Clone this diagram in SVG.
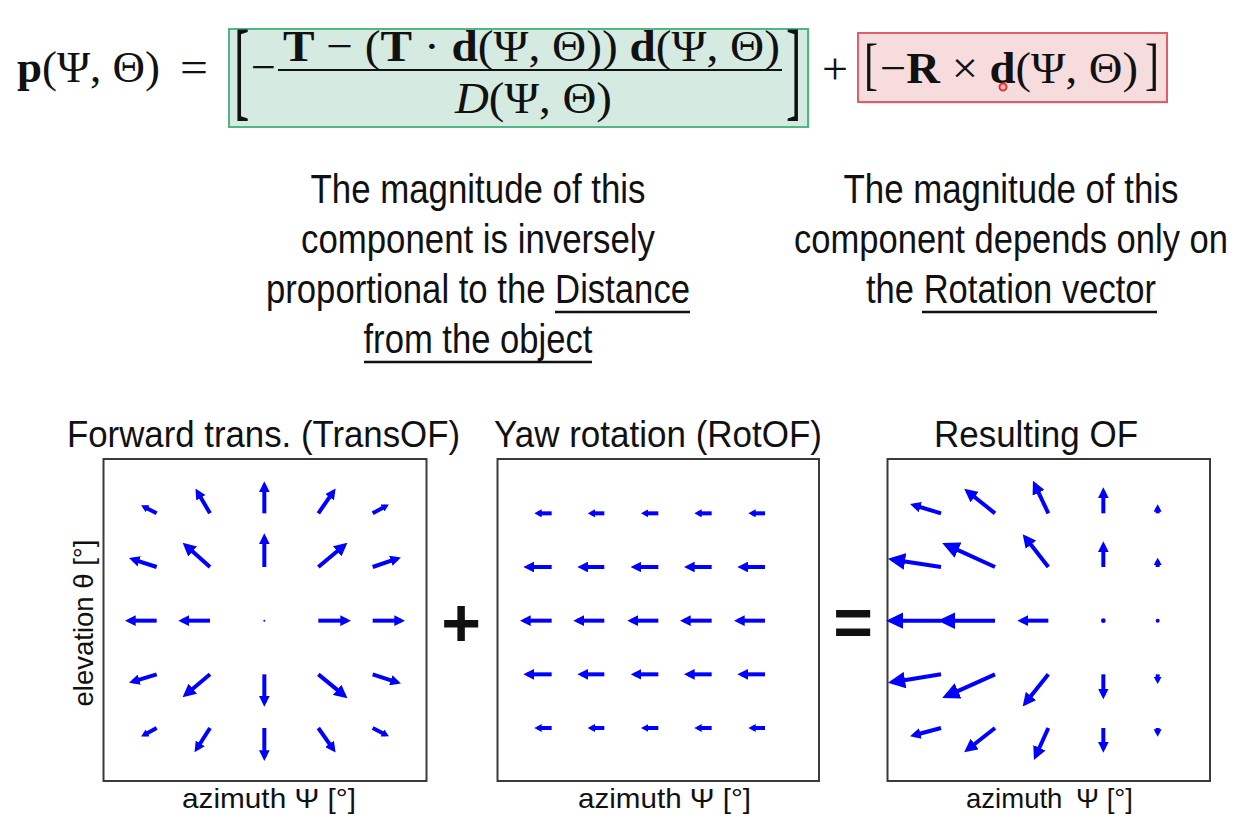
<svg xmlns="http://www.w3.org/2000/svg" width="1251" height="833" viewBox="0 0 1251 833">
<style>
.m{font-family:"Liberation Serif","Times New Roman",serif;font-size:44px;fill:#111}
.b{font-weight:bold}
.t{font-family:"Liberation Sans Narrow","Liberation Sans",Arial,sans-serif;font-size:40px;fill:#111}
.ti{font-family:"Liberation Sans Narrow","Liberation Sans",Arial,sans-serif;font-size:37px;fill:#111}
.ax{font-family:"Liberation Sans Narrow","Liberation Sans",Arial,sans-serif;font-size:28px;fill:#111}
.op{font-family:"Liberation Sans",Arial,sans-serif;font-size:68px;font-weight:bold;fill:#111}
.ul{stroke:#111;stroke-width:2.6}
.frame{fill:#fff;stroke:#3a3a3a;stroke-width:2}
.a{stroke:#0000ff;stroke-width:12;fill:none}
.s{marker-end:url(#mS)}
.md{marker-end:url(#mM)}
.l{marker-end:url(#mL)}
.x{marker-end:url(#mXL)}
.dot{fill:#0000ff}
</style>
<defs>
<marker id="mS" viewBox="0 0 22 24" refX="11" refY="12" markerWidth="22" markerHeight="24" markerUnits="userSpaceOnUse" orient="auto"><path d="M0,0L22,12L0,24z" fill="#0000ff"/></marker>
<marker id="mM" viewBox="0 0 32 32" refX="20" refY="16" markerWidth="32" markerHeight="32" markerUnits="userSpaceOnUse" orient="auto"><path d="M0,0L32,16L0,32z" fill="#0000ff"/></marker>
<marker id="mL" viewBox="0 0 40 40" refX="28" refY="20" markerWidth="40" markerHeight="40" markerUnits="userSpaceOnUse" orient="auto"><path d="M0,0L40,20L0,40z" fill="#0000ff"/></marker>
<marker id="mXL" viewBox="0 0 52 50" refX="39.5" refY="25" markerWidth="52" markerHeight="50" markerUnits="userSpaceOnUse" orient="auto"><path d="M0,0L52,25L0,50z" fill="#0000ff"/></marker>
</defs>
<rect width="1251" height="833" fill="#ffffff"/>

<g id="formula">
<text class="m" x="17" y="82" textLength="143" lengthAdjust="spacingAndGlyphs"><tspan class="b">p</tspan>(Ψ, Θ)</text>
<text class="m" x="180" y="82" textLength="28" lengthAdjust="spacingAndGlyphs">=</text>
<g id="transTerm">
<rect x="231" y="30" width="579" height="98" fill="#cfcfcf" opacity="0.5"/>
<rect x="229" y="29" width="579" height="98" fill="#d5ebe1" stroke="#52b584" stroke-width="2"/>
<text class="m" transform="translate(234 106) scale(0.42 1)" style="font-size:110px">[</text>
<text class="m" transform="translate(786 106) scale(0.42 1)" style="font-size:110px">]</text>
<text class="m" x="251" y="82">−</text>
<text class="m" x="283" y="61" textLength="497" lengthAdjust="spacingAndGlyphs"><tspan class="b">T</tspan> − (<tspan class="b">T</tspan> · <tspan class="b">d</tspan>(Ψ, Θ)) <tspan class="b">d</tspan>(Ψ, Θ)</text>
<line x1="278" y1="70" x2="782" y2="70" stroke="#111" stroke-width="2"/>
<text class="m" x="455" y="113" textLength="157" lengthAdjust="spacingAndGlyphs"><tspan font-style="italic">D</tspan>(Ψ, Θ)</text>
</g>
<text class="m" x="822" y="84" textLength="26" lengthAdjust="spacingAndGlyphs">+</text>
<g id="rotTerm">
<rect x="860" y="35" width="308" height="69" fill="#cfcfcf" opacity="0.5"/>
<rect x="858" y="33" width="309" height="69" fill="#f6dcdd" stroke="#de5f69" stroke-width="2"/>
<text class="m" transform="translate(864 83) scale(0.75 1)" style="font-size:56px">[</text>
<text class="m" x="880" y="83" textLength="258" lengthAdjust="spacingAndGlyphs">−<tspan class="b">R</tspan> × <tspan class="b">d</tspan>(Ψ, Θ)</text>
<text class="m" transform="translate(1145 83) scale(0.75 1)" style="font-size:56px">]</text>
<circle cx="1003" cy="87" r="3.5" fill="#f7b5b5" stroke="#e53333" stroke-width="2"/>
</g>
</g>

<g id="note-translation">
<text class="t" x="478" y="203" text-anchor="middle" textLength="335" lengthAdjust="spacingAndGlyphs">The magnitude of this</text>
<text class="t" x="478" y="253" text-anchor="middle" textLength="354" lengthAdjust="spacingAndGlyphs">component is inversely</text>
<text class="t" x="478" y="303" text-anchor="middle" textLength="424" lengthAdjust="spacingAndGlyphs">proportional to the Distance</text>
<text class="t" x="478" y="353" text-anchor="middle" textLength="229" lengthAdjust="spacingAndGlyphs">from the object</text>
<line class="ul" x1="555" y1="312" x2="690" y2="312"/>
<line class="ul" x1="364" y1="362" x2="592" y2="362"/>
</g>

<g id="note-rotation">
<text class="t" x="1011" y="203" text-anchor="middle" textLength="335" lengthAdjust="spacingAndGlyphs">The magnitude of this</text>
<text class="t" x="1011" y="253" text-anchor="middle" textLength="434" lengthAdjust="spacingAndGlyphs">component depends only on</text>
<text class="t" x="1011" y="303" text-anchor="middle" textLength="290" lengthAdjust="spacingAndGlyphs">the Rotation vector</text>
<line class="ul" x1="922" y1="312" x2="1157" y2="312"/>
</g>

<g id="panel-trans">
<text class="ti" x="67" y="447" textLength="393" lengthAdjust="spacingAndGlyphs">Forward trans. (TransOF)</text>
<rect class="frame" x="103.5" y="459" width="323" height="322"/>
<text class="ax" x="182" y="808" textLength="174" lengthAdjust="spacingAndGlyphs">azimuth Ψ [°]</text>
<text class="ax" transform="translate(93 623) rotate(-90)" text-anchor="middle" textLength="167" lengthAdjust="spacingAndGlyphs">elevation θ [°]</text>
<g transform="translate(100 455) scale(0.33333)">
<line class="a s" x1="170" y1="175" x2="133" y2="156"/>
<line class="a md" x1="330" y1="175" x2="292.5" y2="111"/>
<line class="a md" x1="493" y1="175" x2="493" y2="91"/>
<line class="a md" x1="655" y1="175" x2="700" y2="110"/>
<line class="a s" x1="818" y1="175" x2="857" y2="154"/>
<line class="a md" x1="170" y1="336" x2="98.5" y2="313"/>
<line class="a l" x1="330" y1="336" x2="257" y2="271"/>
<line class="a md" x1="493" y1="336" x2="493" y2="247"/>
<line class="a l" x1="655" y1="336" x2="733" y2="271"/>
<line class="a md" x1="818" y1="336" x2="891.5" y2="311"/>
<line class="a md" x1="170" y1="497" x2="87" y2="497"/>
<line class="a md" x1="330" y1="497" x2="247" y2="497"/>
<circle class="dot" cx="493" cy="497" r="3"/>
<line class="a md" x1="655" y1="497" x2="741" y2="497"/>
<line class="a md" x1="818" y1="497" x2="903" y2="497"/>
<line class="a md" x1="170" y1="658" x2="98.5" y2="680"/>
<line class="a l" x1="330" y1="658" x2="257" y2="719"/>
<line class="a md" x1="493" y1="658" x2="493" y2="743"/>
<line class="a l" x1="655" y1="658" x2="733" y2="722"/>
<line class="a md" x1="818" y1="658" x2="891.5" y2="682"/>
<line class="a s" x1="170" y1="819" x2="133" y2="839"/>
<line class="a md" x1="330" y1="819" x2="290" y2="882"/>
<line class="a md" x1="493" y1="819" x2="493" y2="906"/>
<line class="a md" x1="655" y1="819" x2="700" y2="883"/>
<line class="a s" x1="818" y1="819" x2="857" y2="839"/>
</g>
</g>

<text id="plus" class="op" x="461" y="646" text-anchor="middle">+</text>

<g id="panel-rot">
<text class="ti" x="494" y="447" textLength="328" lengthAdjust="spacingAndGlyphs">Yaw rotation (RotOF)</text>
<rect class="frame" x="497.5" y="459" width="321.5" height="322"/>
<text class="ax" x="578" y="808" textLength="173" lengthAdjust="spacingAndGlyphs">azimuth Ψ [°]</text>
<g transform="translate(495 455) scale(0.33333)">
<line class="a s" x1="170" y1="175" x2="129" y2="175"/>
<line class="a s" x1="328" y1="175" x2="289" y2="175"/>
<line class="a s" x1="490" y1="175" x2="449" y2="175"/>
<line class="a s" x1="650" y1="175" x2="609" y2="175"/>
<line class="a s" x1="810" y1="175" x2="771" y2="175"/>
<line class="a md" x1="170" y1="336" x2="97" y2="336"/>
<line class="a md" x1="328" y1="336" x2="259" y2="336"/>
<line class="a md" x1="490" y1="336" x2="419" y2="336"/>
<line class="a md" x1="650" y1="336" x2="579" y2="336"/>
<line class="a md" x1="810" y1="336" x2="739" y2="336"/>
<line class="a md" x1="170" y1="497" x2="87" y2="497"/>
<line class="a md" x1="328" y1="497" x2="247" y2="497"/>
<line class="a md" x1="490" y1="497" x2="409" y2="497"/>
<line class="a md" x1="650" y1="497" x2="567" y2="497"/>
<line class="a md" x1="810" y1="497" x2="729" y2="497"/>
<line class="a md" x1="170" y1="658" x2="97" y2="658"/>
<line class="a md" x1="328" y1="658" x2="259" y2="658"/>
<line class="a md" x1="490" y1="658" x2="419" y2="658"/>
<line class="a md" x1="650" y1="658" x2="579" y2="658"/>
<line class="a md" x1="810" y1="658" x2="739" y2="658"/>
<line class="a s" x1="170" y1="819" x2="129" y2="819"/>
<line class="a s" x1="328" y1="819" x2="289" y2="819"/>
<line class="a s" x1="490" y1="819" x2="449" y2="819"/>
<line class="a s" x1="650" y1="819" x2="609" y2="819"/>
<line class="a s" x1="810" y1="819" x2="771" y2="819"/>
</g>
</g>

<text id="equals" class="op" x="853" y="646" text-anchor="middle">=</text>

<g id="panel-result">
<text class="ti" x="934" y="447" textLength="204" lengthAdjust="spacingAndGlyphs">Resulting OF</text>
<rect class="frame" x="887.5" y="459" width="322.5" height="322"/>
<text class="ax" x="966" y="808" textLength="167" lengthAdjust="spacingAndGlyphs">azimuth <tspan dx="6">Ψ</tspan> [°]</text>
<g transform="translate(885 455) scale(0.33333)">
<line class="a md" x1="168" y1="175" x2="86.6" y2="150.6"/>
<line class="a l" x1="330" y1="175" x2="247" y2="108.6"/>
<line class="a l" x1="490" y1="175" x2="449" y2="88"/>
<line class="a md" x1="655" y1="175" x2="655" y2="109"/>
<line class="a s" x1="818" y1="175" x2="818" y2="159"/>
<line class="a x" x1="168" y1="336" x2="21" y2="313.4"/>
<line class="a x" x1="330" y1="336" x2="183" y2="269"/>
<line class="a l" x1="490" y1="336" x2="420.5" y2="247"/>
<line class="a md" x1="655" y1="336" x2="655" y2="271"/>
<line class="a s" x1="818" y1="336" x2="818" y2="319"/>
<line class="a x" x1="168" y1="497" x2="16" y2="497"/>
<line class="a x" x1="330" y1="497" x2="171" y2="497"/>
<line class="a md" x1="490" y1="497" x2="409" y2="497"/>
<circle class="dot" cx="655" cy="497" r="7"/>
<circle class="dot" cx="818" cy="497" r="6"/>
<line class="a x" x1="168" y1="658" x2="21" y2="681.6"/>
<line class="a x" x1="330" y1="658" x2="183" y2="724"/>
<line class="a l" x1="490" y1="658" x2="420.5" y2="745"/>
<line class="a md" x1="655" y1="658" x2="655" y2="721"/>
<line class="a s" x1="818" y1="658" x2="818" y2="676"/>
<line class="a md" x1="168" y1="819" x2="86.7" y2="840.6"/>
<line class="a l" x1="330" y1="819" x2="247" y2="884.4"/>
<line class="a l" x1="490" y1="819" x2="451.7" y2="903.8"/>
<line class="a md" x1="655" y1="819" x2="655" y2="881"/>
<line class="a s" x1="818" y1="819" x2="818" y2="834"/>
</g>
</g>
</svg>
